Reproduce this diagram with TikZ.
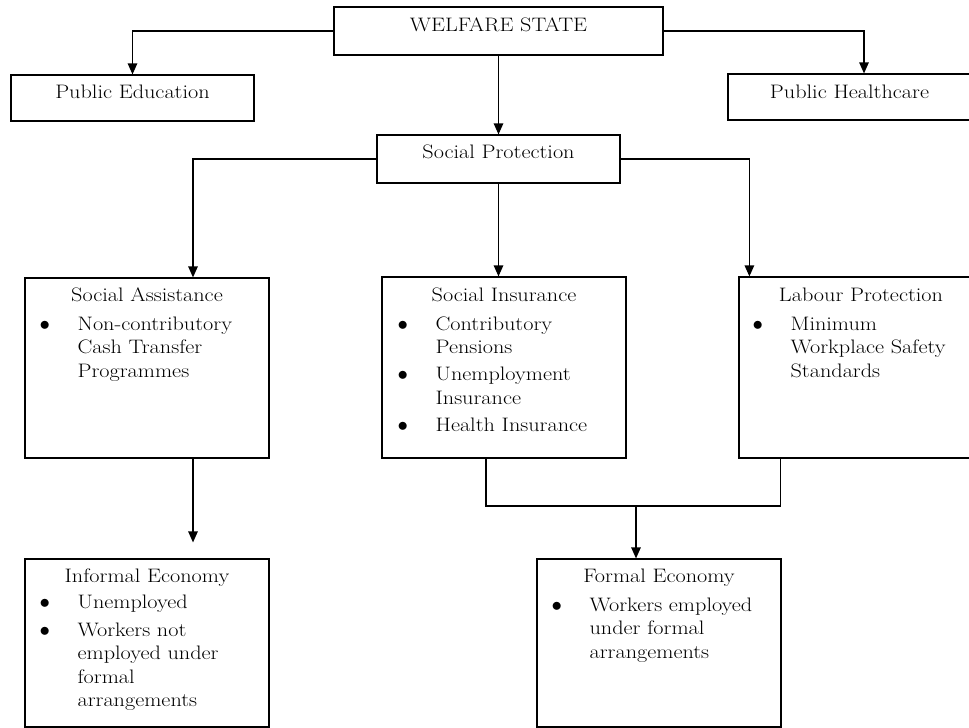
\documentclass[tikz,border=0pt]{standalone}
\usepackage{fontspec}
\setmainfont{Latin Modern Roman}[FakeStretch=1.14]
\usetikzlibrary{arrows.meta}

\tikzset{
  box/.style={draw, line width=1.2pt, rectangle, inner sep=0pt},
  title/.style={anchor=base, inner sep=0pt},
  items/.style={anchor=base west, inner sep=0pt},
  link/.style={line width=1.2pt},
  arr/.style={link, -{Triangle[length=11pt,width=9.5pt]}},
}

% bullet list: bullet column, then the text lines
\newcommand{\blist}[1]{\begin{tabular}[t]{@{}p{38pt}@{}l@{}}#1\end{tabular}}

\begin{document}
\begin{tikzpicture}[x=1pt, y=-1pt, every node/.append style={font=\fontsize{19.5}{23.5}\selectfont}]
  \useasboundingbox (0,0) rectangle (969,728);

  % boxes
  \node[box, minimum width=329pt, minimum height=48pt]  (ws) at (498.5,31) {};
  \node[box, minimum width=243pt, minimum height=46pt]  (pe) at (132.5,98) {};
  \node[box, minimum width=243pt, minimum height=46pt]  (ph) at (849.5,97) {};
  \node[box, minimum width=243pt, minimum height=48pt]  (sp) at (498.5,159) {};
  \node[box, minimum width=244pt, minimum height=180pt] (sa) at (147,368) {};
  \node[box, minimum width=244pt, minimum height=181pt] (si) at (504,367.5) {};
  \node[box, minimum width=244pt, minimum height=181pt] (lp) at (861,367.5) {};
  \node[box, minimum width=244pt, minimum height=168pt] (ie) at (147,643) {};
  \node[box, minimum width=244pt, minimum height=168pt] (fe) at (659,643) {};

  % titles
  \node[title] (ws-t) at ([yshift=-25pt]ws.north) {WELFARE STATE};
  \node[title] (pe-t) at ([yshift=-24pt]pe.north) {Public Education};
  \node[title] (ph-t) at ([yshift=-25pt]ph.north) {Public Healthcare};
  \node[title] (sp-t) at ([yshift=-24pt]sp.north) {Social Protection};
  \node[title] (sa-t) at ([yshift=-24pt]sa.north) {Social Assistance};
  \node[title] (si-t) at ([yshift=-25pt]si.north) {Social Insurance};
  \node[title] (lp-t) at ([yshift=-25pt]lp.north) {Labour Protection};
  \node[title] (ie-t) at ([yshift=-24pt]ie.north) {Informal Economy};
  \node[title] (fe-t) at ([yshift=-24pt]fe.north) {Formal Economy};

  % bullet lists
  \node[items] (sa-l) at ([xshift=15pt,yshift=-53pt]sa.north west)
    {\blist{$\bullet$ & Non-contributory\\ & Cash Transfer\\ & Programmes}};
  \node[items] (si-l) at ([xshift=16pt,yshift=-54pt]si.north west)
    {\blist{$\bullet$ & Contributory\\ & Pensions\\[3.5pt] $\bullet$ & Unemployment\\ & Insurance\\[3.5pt] $\bullet$ & Health Insurance}};
  \node[items] (lp-l) at ([xshift=14pt,yshift=-54pt]lp.north west)
    {\blist{$\bullet$ & Minimum\\ & Workplace Safety\\ & Standards}};
  \node[items] (ie-l) at ([xshift=15pt,yshift=-50pt]ie.north west)
    {\blist{$\bullet$ & Unemployed\\[4.5pt] $\bullet$ & Workers not\\ & employed under\\ & formal\\ & arrangements}};
  \node[items] (fe-l) at ([xshift=15pt,yshift=-53pt]fe.north west)
    {\blist{$\bullet$ & Workers employed\\ & under formal\\ & arrangements}};

  % connectors
  \draw[arr] (ws.west) -| (pe.north);
  \draw[arr] (ws.east) -| ([xshift=14.5pt]ph.north);
  \draw[arr] (ws.south) -- (sp.north);
  \draw[arr] (sp.west) -| ([xshift=46pt]sa.north);
  \draw[arr] (sp.south) -- (sp.south |- si.north);
  \draw[arr] (sp.east) -| ([xshift=11pt]lp.north west);

  \coordinate (ietip) at ([xshift=46pt,yshift=16pt]ie.north);
  \draw[arr] ([xshift=46pt]sa.south) -- (ietip);

  \coordinate (siout) at ([xshift=-18pt]si.south);
  \coordinate (lpout) at ([xshift=42pt]lp.south west);
  \coordinate (merge) at (636,506);
  \draw[link] (siout) |- (merge) -| (lpout);
  \draw[arr] (merge) -- (merge |- fe.north);
\end{tikzpicture}
\end{document}
